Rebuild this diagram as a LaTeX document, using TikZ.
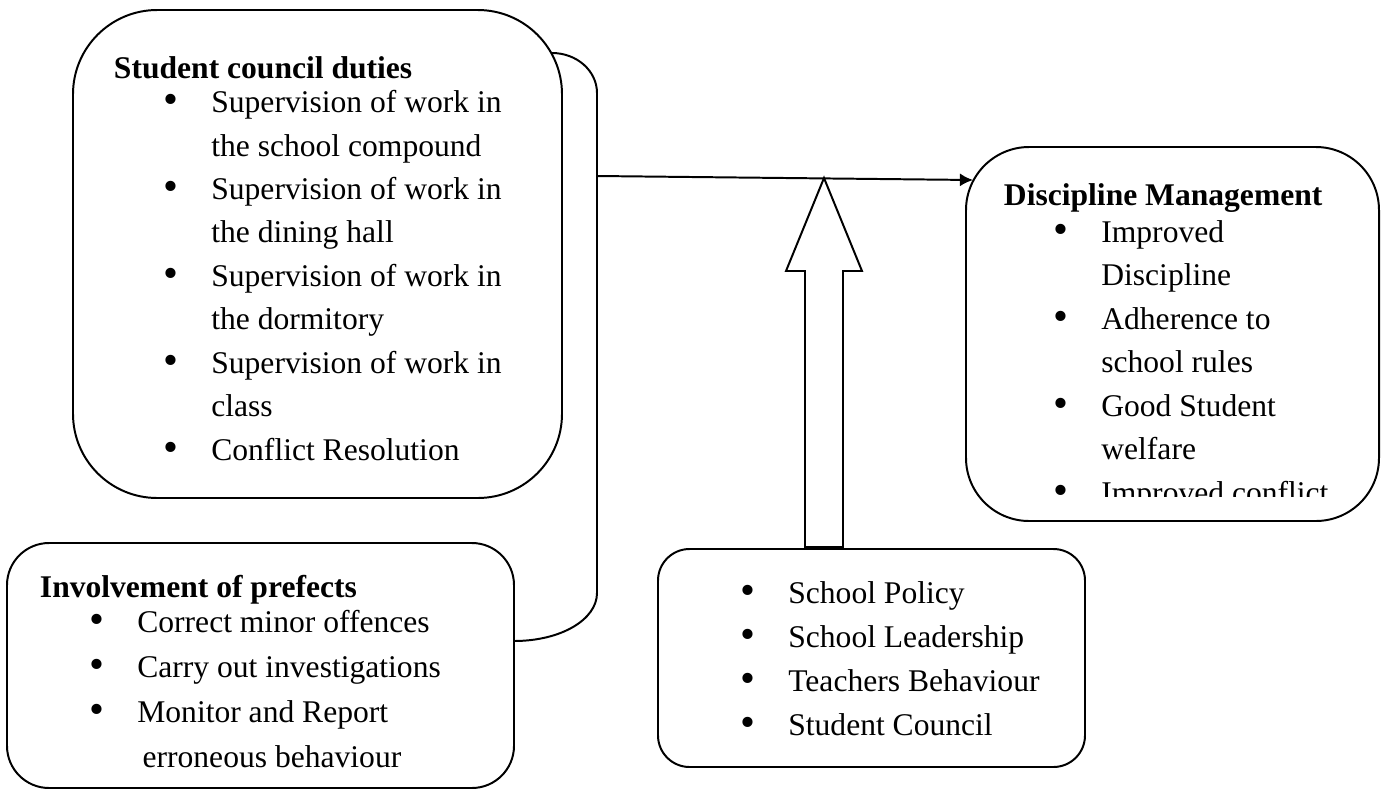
\documentclass[tikz,border=0pt]{standalone}
\usepackage{fontspec}
\setmainfont{Liberation Serif}
\usetikzlibrary{arrows.meta,calc}
\newcommand{\bul}{\hspace*{19pt}\makebox[18pt][l]{\raisebox{-0.4pt}{\scalebox{1.35}{\textbullet}}}}
\newcommand{\cont}{\hspace*{37pt}}

\begin{document}
\begin{tikzpicture}[x=0.38pt, y=-0.38pt, line width=0.75pt,
  box/.style={draw, rounded corners=#1, inner sep=0pt},
  txt/.style={align=left, anchor=base west, inner sep=0pt, font=\fontsize{12}{16.5}\selectfont}]
\useasboundingbox (0,0) rectangle (1386,792);

% boxes
\node[box=32pt, minimum width=489*0.38pt, minimum height=488*0.38pt] (council) at (317.5,254) {};
\node[box=24pt, minimum width=413*0.38pt, minimum height=374*0.38pt] (discipline) at (1172.5,334) {};
\node[box=16pt, minimum width=507*0.38pt, minimum height=245*0.38pt] (prefects) at (260.5,665.5) {};
\node[box=12pt, minimum width=427*0.38pt, minimum height=218*0.38pt] (factors) at (871.5,658) {};

% texts (anchored at the baseline of the last line)
\node[txt] (councilText) at (113,460) {
    {\bfseries Student council duties}\\[-3.5pt]
    \bul Supervision of work in\\
    \cont the school compound\\
    \bul Supervision of work in\\
    \cont the dining hall\\
    \bul Supervision of work in\\
    \cont the dormitory\\
    \bul Supervision of work in\\
    \cont class\\
    \bul Conflict Resolution
};
\begin{scope}
\clip (960,140) rectangle (1385,496);
\node[txt] (disciplineText) at (1003,503) {
    {\bfseries Discipline Management}\\[-2.5pt]
    \bul Improved\\
    \cont Discipline\\
    \bul Adherence to\\
    \cont school rules\\
    \bul Good Student\\
    \cont welfare\\
    \bul Improved conflict
};
\end{scope}
\node[txt] (prefectsText) at (39,767) {
    {\bfseries Involvement of prefects}\\[-3pt]
    \bul Correct minor offences\\[0.5pt]
    \bul Carry out investigations\\[0.5pt]
    \bul Monitor and Report\\[0.5pt]
    \hspace*{39pt}erroneous behaviour
};
\node[txt] (factorsText) at (690,735) {
    \bul School Policy\\[0.2pt]
    \bul School Leadership\\[0.2pt]
    \bul Teachers Behaviour\\[0.2pt]
    \bul Student Council
};

% bracket joining the two left boxes
\coordinate (brTop) at (552,53);
\coordinate (brBot) at (514,641);
\coordinate (join) at (597,176);
\draw (brTop) .. controls (577,53) and (597,71) .. (597,93)
  -- (597,593) .. controls (597,619.5) and (561,641) .. (brBot);

% main arrow
\coordinate (tip) at (973,180);
\draw[-{Latex[length=5pt,width=5pt]}] (join) -- (tip);

% hollow arrow from the factors
\coordinate (push) at (824,547);
\coordinate (meet) at (824,178);
\draw[fill=white] (push) ++(-19,0) -- ++(0,-276) -- ++(-19,0) -- (meet)
  -- ++(38,93) -- ++(-19,0) -- ++(0,276) -- cycle;
\end{tikzpicture}
\end{document}
